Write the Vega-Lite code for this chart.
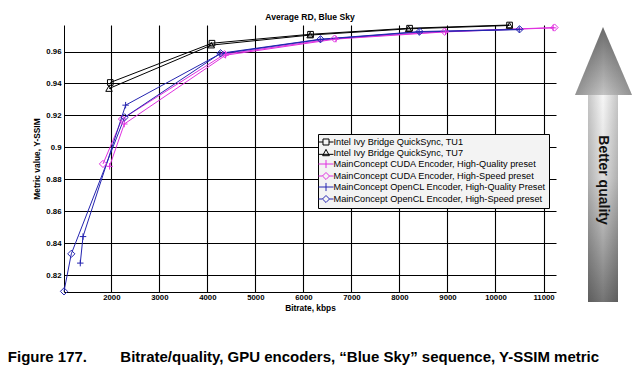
{
  "$schema": "https://vega.github.io/schema/vega-lite/v6.json",
  "background": "white",
  "padding": {"left": 7, "top": 12, "right": 5, "bottom": 10},
  "autosize": {"type": "pad"},
  "bounds": "flush",
  "spacing": 18,
  "config": {"view": {"stroke": null}, "font": "Liberation Sans",
    "axis": {"grid": true, "gridColor": "#000000", "gridOpacity": 1, "gridWidth": 1.1, "ticks": true, "tickSize": 3, "tickColor": "#000000", "tickOpacity": 0,
      "domainColor": "#000000", "domainWidth": 1,
      "labelFont": "Liberation Sans", "labelFontSize": 7.8, "labelFontWeight": "bold", "labelColor": "#000000", "labelOverlap": false,
      "titleFont": "Liberation Sans", "titleFontSize": 8.4, "titleFontWeight": "bold", "titleColor": "#000000"}},
  "title": {
    "text": "Figure 177.\u00a0\u00a0\u00a0\u00a0\u00a0\u00a0\u00a0\u00a0Bitrate/quality, GPU encoders, “Blue Sky” sequence, Y-SSIM metric",
    "orient": "bottom", "anchor": "start", "fontSize": 15, "fontWeight": "bold",
    "font": "Liberation Sans", "color": "#000000", "offset": 38, "dx": -25
  },
  "datasets": {
    "rd": [
      {"series": "Intel Ivy Bridge QuickSync, TU1", "bitrate": 1979, "ssim": 0.9406},
      {"series": "Intel Ivy Bridge QuickSync, TU1", "bitrate": 4096, "ssim": 0.9652},
      {"series": "Intel Ivy Bridge QuickSync, TU1", "bitrate": 6149, "ssim": 0.9708},
      {"series": "Intel Ivy Bridge QuickSync, TU1", "bitrate": 8211, "ssim": 0.9746},
      {"series": "Intel Ivy Bridge QuickSync, TU1", "bitrate": 10293, "ssim": 0.9766},
      {"series": "Intel Ivy Bridge QuickSync, TU7", "bitrate": 1952, "ssim": 0.9368},
      {"series": "Intel Ivy Bridge QuickSync, TU7", "bitrate": 4082, "ssim": 0.964},
      {"series": "Intel Ivy Bridge QuickSync, TU7", "bitrate": 6140, "ssim": 0.9703},
      {"series": "Intel Ivy Bridge QuickSync, TU7", "bitrate": 8190, "ssim": 0.9742},
      {"series": "Intel Ivy Bridge QuickSync, TU7", "bitrate": 10290, "ssim": 0.9763},
      {"series": "MainConcept CUDA Encoder, High-Quality preset", "bitrate": 1964, "ssim": 0.8881},
      {"series": "MainConcept CUDA Encoder, High-Quality preset", "bitrate": 2270, "ssim": 0.9146},
      {"series": "MainConcept CUDA Encoder, High-Quality preset", "bitrate": 4380, "ssim": 0.9577},
      {"series": "MainConcept CUDA Encoder, High-Quality preset", "bitrate": 6680, "ssim": 0.9678},
      {"series": "MainConcept CUDA Encoder, High-Quality preset", "bitrate": 8960, "ssim": 0.9723},
      {"series": "MainConcept CUDA Encoder, High-Quality preset", "bitrate": 11200, "ssim": 0.9748},
      {"series": "MainConcept CUDA Encoder, High-Speed preset", "bitrate": 1827, "ssim": 0.8896},
      {"series": "MainConcept CUDA Encoder, High-Speed preset", "bitrate": 2223, "ssim": 0.9177},
      {"series": "MainConcept CUDA Encoder, High-Speed preset", "bitrate": 4359, "ssim": 0.9583},
      {"series": "MainConcept CUDA Encoder, High-Speed preset", "bitrate": 6649, "ssim": 0.9681},
      {"series": "MainConcept CUDA Encoder, High-Speed preset", "bitrate": 8939, "ssim": 0.9725},
      {"series": "MainConcept CUDA Encoder, High-Speed preset", "bitrate": 11229, "ssim": 0.975},
      {"series": "MainConcept OpenCL Encoder, High-Quality Preset", "bitrate": 1354, "ssim": 0.8275},
      {"series": "MainConcept OpenCL Encoder, High-Quality Preset", "bitrate": 1411, "ssim": 0.8441},
      {"series": "MainConcept OpenCL Encoder, High-Quality Preset", "bitrate": 2298, "ssim": 0.9264},
      {"series": "MainConcept OpenCL Encoder, High-Quality Preset", "bitrate": 4265, "ssim": 0.9585},
      {"series": "MainConcept OpenCL Encoder, High-Quality Preset", "bitrate": 6350, "ssim": 0.9675},
      {"series": "MainConcept OpenCL Encoder, High-Quality Preset", "bitrate": 8410, "ssim": 0.9722},
      {"series": "MainConcept OpenCL Encoder, High-Quality Preset", "bitrate": 10495, "ssim": 0.9737},
      {"series": "MainConcept OpenCL Encoder, High-Speed preset", "bitrate": 1015, "ssim": 0.8098},
      {"series": "MainConcept OpenCL Encoder, High-Speed preset", "bitrate": 1167, "ssim": 0.8333},
      {"series": "MainConcept OpenCL Encoder, High-Speed preset", "bitrate": 2277, "ssim": 0.9188},
      {"series": "MainConcept OpenCL Encoder, High-Speed preset", "bitrate": 4276, "ssim": 0.9589},
      {"series": "MainConcept OpenCL Encoder, High-Speed preset", "bitrate": 6357, "ssim": 0.9677},
      {"series": "MainConcept OpenCL Encoder, High-Speed preset", "bitrate": 8419, "ssim": 0.9725},
      {"series": "MainConcept OpenCL Encoder, High-Speed preset", "bitrate": 10501, "ssim": 0.9739}
    ],
    "shaft": [{"x": 14, "x2": 44, "y": 0, "y2": 207}],
    "head": [{"x": 1, "y": 207}, {"x": 29, "y": 275}, {"x": 58, "y": 207}],
    "caption": [{"x": 29, "y": 122, "text": "Better quality"}]
  },
  "hconcat": [
    {
      "width": 492,
      "height": 267,
      "title": {"text": "Average RD, Blue Sky", "fontSize": 8.6, "fontWeight": "bold", "font": "Liberation Sans", "color": "#000000", "offset": -1, "anchor": "middle"},
      "data": {"name": "rd"},
      "encoding": {
        "x": {"field": "bitrate", "type": "quantitative",
          "scale": {"domain": [1015, 11260], "nice": false, "zero": false},
          "axis": {"title": "Bitrate, kbps", "tickCount": 10, "format": "d", "grid": true,
            "labelPadding": -2, "titlePadding": 3}},
        "y": {"field": "ssim", "type": "quantitative",
          "scale": {"domain": [0.8094, 0.9766], "nice": false, "zero": false},
          "axis": {"title": "Metric value, Y-SSIM", "tickCount": 8, "format": "~g", "grid": true,
            "labelPadding": 0, "titlePadding": 4}},
        "color": {"field": "series", "type": "nominal",
          "scale": {"domain": ["Intel Ivy Bridge QuickSync, TU1", "Intel Ivy Bridge QuickSync, TU7", "MainConcept CUDA Encoder, High-Quality preset", "MainConcept CUDA Encoder, High-Speed preset", "MainConcept OpenCL Encoder, High-Quality Preset", "MainConcept OpenCL Encoder, High-Speed preset"],
            "range": ["#000000", "#000000", "#e030e0", "#e030e0", "#2424b0", "#2424b0"]},
          "legend": {"title": null, "orient": "none", "legendX": 254, "legendY": 109,
            "fillColor": "#f3f3f3", "strokeColor": "#000000", "padding": 3,
            "symbolSize": 81, "symbolStrokeWidth": 1, "symbolOffset": 0, "labelOffset": 2.5,
            "labelFont": "Liberation Sans", "labelFontSize": 9.2, "labelColor": "#000000", "labelLimit": 400,
            "rowPadding": -2.4,
            "encode": {"symbols": {"update": {"fill": {"value": "transparent"}, "opacity": {"value": 1}}}}}}
      },
      "layer": [
        {"mark": {"type": "line", "strokeWidth": 1}},
        {
          "transform": [{"filter": "datum.series == 'Intel Ivy Bridge QuickSync, TU1'"}],
          "mark": {"type": "point", "shape": "square", "size": 32, "filled": false, "strokeWidth": 1, "opacity": 1}
        },
        {
          "transform": [{"filter": "datum.series == 'Intel Ivy Bridge QuickSync, TU7'"}],
          "mark": {"type": "point", "shape": "triangle-up", "size": 42, "filled": false, "strokeWidth": 1, "opacity": 1}
        },
        {
          "transform": [{"filter": "indexof(datum.series, 'High-Quality') >= 0"}],
          "mark": {"type": "point", "shape": "M-1,0H1M0,-1V1", "size": 42, "filled": false, "strokeWidth": 1, "opacity": 1}
        },
        {
          "transform": [{"filter": "indexof(datum.series, 'High-Speed') >= 0"}],
          "mark": {"type": "point", "shape": "diamond", "size": 52, "filled": false, "strokeWidth": 1, "opacity": 1}
        },
        {
          "mark": {"type": "point", "filled": false, "strokeWidth": 1, "opacity": 0},
          "encoding": {
            "shape": {"field": "series", "type": "nominal",
              "scale": {"domain": ["Intel Ivy Bridge QuickSync, TU1", "Intel Ivy Bridge QuickSync, TU7", "MainConcept CUDA Encoder, High-Quality preset", "MainConcept CUDA Encoder, High-Speed preset", "MainConcept OpenCL Encoder, High-Quality Preset", "MainConcept OpenCL Encoder, High-Speed preset"],
                "range": ["M-1.67,0H-0.67M0.67,0H1.67M-0.67,-0.67H0.67V0.67H-0.67Z", "M-1.67,0.3H1.67M0,-0.8L0.75,0.6H-0.75Z", "M-1.67,0H1.67M0,-0.9V0.9", "M-1.67,0H-0.78M0.78,0H1.67M0,-0.78L0.78,0L0,0.78L-0.78,0Z", "M-1.67,0H1.67M0,-0.9V0.9", "M-1.67,0H-0.78M0.78,0H1.67M0,-0.78L0.78,0L0,0.78L-0.78,0Z"]}}
          }
        }
      ]
    },
    {
      "width": 59,
      "height": 277,
      "layer": [
        {
          "data": {"name": "shaft"},
          "mark": {"type": "rect", "fill": {"gradient": "linear", "x1": 0, "y1": 0, "x2": 0, "y2": 1, "stops": [{"offset": 0, "color": "#f6f6f6"}, {"offset": 0.4, "color": "#dcdcdc"}, {"offset": 1, "color": "#747474"}]}},
          "encoding": {
            "x": {"field": "x", "type": "quantitative", "scale": {"domain": [0, 59], "nice": false, "zero": false}, "axis": null},
            "x2": {"field": "x2"},
            "y": {"field": "y", "type": "quantitative", "scale": {"domain": [0, 277], "nice": false, "zero": false}, "axis": null},
            "y2": {"field": "y2"}
          }
        },
        {
          "data": {"name": "shaft"},
          "mark": {"type": "rect", "fill": {"gradient": "linear", "x1": 0, "y1": 0, "x2": 1, "y2": 0, "stops": [{"offset": 0, "color": "rgba(0,0,0,0.2)"}, {"offset": 0.5, "color": "rgba(0,0,0,0)"}, {"offset": 1, "color": "rgba(0,0,0,0.2)"}]}},
          "encoding": {
            "x": {"field": "x", "type": "quantitative", "axis": null},
            "x2": {"field": "x2"},
            "y": {"field": "y", "type": "quantitative", "axis": null},
            "y2": {"field": "y2"}
          }
        },
        {
          "data": {"name": "head"},
          "mark": {"type": "area", "fill": {"gradient": "linear", "x1": 0, "y1": 0, "x2": 0, "y2": 1, "stops": [{"offset": 0, "color": "#6a6a6a"}, {"offset": 1, "color": "#c4c4c4"}]}},
          "encoding": {
            "x": {"field": "x", "type": "quantitative", "axis": null},
            "y": {"field": "y", "type": "quantitative", "axis": null},
            "y2": {"datum": 207}
          }
        },
        {
          "data": {"name": "head"},
          "mark": {"type": "area", "fill": {"gradient": "linear", "x1": 0, "y1": 0, "x2": 1, "y2": 0, "stops": [{"offset": 0, "color": "rgba(0,0,0,0.25)"}, {"offset": 0.5, "color": "rgba(0,0,0,0)"}, {"offset": 1, "color": "rgba(0,0,0,0.25)"}]}},
          "encoding": {
            "x": {"field": "x", "type": "quantitative", "axis": null},
            "y": {"field": "y", "type": "quantitative", "axis": null},
            "y2": {"datum": 207}
          }
        },
        {
          "data": {"name": "caption"},
          "mark": {"type": "text", "angle": 90, "align": "center", "baseline": "middle", "fontSize": 14, "fontWeight": "bold", "font": "Liberation Sans", "color": "#111111"},
          "encoding": {
            "x": {"field": "x", "type": "quantitative", "axis": null},
            "y": {"field": "y", "type": "quantitative", "axis": null},
            "text": {"field": "text"}
          }
        }
      ]
    }
  ]
}
